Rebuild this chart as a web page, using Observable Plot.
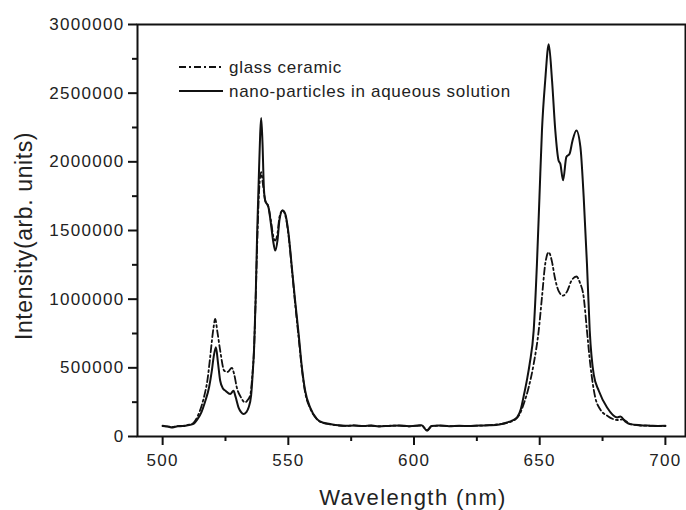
<!DOCTYPE html>
<html><head><meta charset="utf-8">
<script src="https://cdn.jsdelivr.net/npm/d3@7"></script>
<script src="https://cdn.jsdelivr.net/npm/@observablehq/plot@0.6"></script>
<style>
body{margin:0;background:#fff;}
#wrap{position:relative;width:686px;height:510px;font-family:"Liberation Sans",Arial,sans-serif;}
#overlay{position:absolute;left:0;top:0;pointer-events:none;}
</style></head><body><div id="wrap"></div>
<script>
// ---- data ----
const glassWl = [500,502,504,506,508,510,512,514,515.6,517,517.6,518.8,519.6,520.3,520.9,521.8,522.9,524.5,525.8,527.5,528.5,529.5,531,532.8,533.8,534.8,535.7,536.4,537,537.7,538.4,539.2,539.8,540.8,542.1,543,544,544.8,545.7,546.5,547.7,548.8,550.1,551.4,552.7,554.1,555.4,556.7,558.7,561.4,564,567,570,573,576,580,583,586,590,594,598,601,603,605.2,607,610,614,618,622,626,630,634,637,640,642,643.5,645.6,647.6,649.6,650.9,652.2,653.6,654.8,656,657.5,659.3,661,662.5,664.6,666,667.5,668.8,670.1,672.1,674,677,681,683,686,690,694,697,700];
const glassI  = [76000,74000,70000,76000,78000,84000,95000,150000,230000,330000,384000,560000,698000,800000,856000,760000,625000,479000,470000,500000,450000,357000,290000,248000,265000,297000,450000,650000,1000000,1450000,1800000,1925000,1850000,1719000,1670000,1580000,1460000,1427000,1480000,1600000,1646000,1610000,1460000,1220000,970000,720000,490000,320000,205000,125000,98000,88000,80000,77000,81000,75000,80000,73000,78000,79000,74000,79000,80000,48000,75000,79000,76000,77000,78000,79000,83000,90000,100000,120000,160000,230000,357000,528000,771000,1014000,1257000,1342000,1280000,1160000,1060000,1026000,1060000,1130000,1165000,1120000,1014000,771000,528000,284000,200000,150000,120000,125000,90000,80000,78000,76000,76000];
const nanoWl  = [500,502,504,506,508,510,512,514,515.5,517,518.5,519.5,520.3,521.2,522,522.9,524,525,526.9,528.2,529,530.2,531.2,532.2,533.2,534.2,535.2,535.8,536.4,537,537.6,538.2,538.8,539.2,539.7,540.3,540.8,542.1,543,544,544.8,545.7,546.5,547.7,548.8,550.1,551.4,552.7,554.1,555.4,556.7,558.7,561.4,564,567,570,573,576,580,583,586,590,594,598,601,603,605.2,607,610,614,618,622,626,630,634,637,639,641,642.5,643.7,645,646,647.6,648.9,649.9,650.9,652.2,653.6,654.9,656.2,657.5,658.2,659.3,660.6,661.9,663,664.6,666.2,667.5,668.8,669.9,671.5,673.5,676.8,680.8,682.1,684,686.1,690,694,697,700];
const nanoI   = [78000,72000,66000,75000,76000,82000,90000,130000,180000,260000,360000,470000,580000,650000,540000,406000,350000,333000,309000,333000,290000,211000,178000,163000,175000,211000,300000,450000,650000,1000000,1480000,1850000,2200000,2320000,2150000,1800000,1719000,1670000,1560000,1420000,1354000,1430000,1580000,1646000,1620000,1476000,1232000,990000,747000,503000,333000,211000,127000,100000,90000,82000,78000,80000,76000,79000,74000,77000,80000,75000,78000,82000,42000,76000,80000,75000,78000,76000,80000,82000,88000,102000,115000,139000,200000,300000,420000,528000,771000,1257000,1743000,2229000,2594000,2856000,2594000,2229000,2010000,1986000,1865000,2035000,2059000,2150000,2229000,2107000,1743000,1257000,771000,450000,333000,211000,139000,145000,110000,90000,82000,79000,77000,78000];
const xTicks = [500,550,600,650,700];
const xMinor = [525,575,625,675];
const yTicks = [0,500000,1000000,1500000,2000000,2500000,3000000];
const yMinor = [250000,750000,1250000,1750000,2250000,2750000];
const legendLabels = ["glass ceramic","nano-particles in aqueous solution"];
const xTitle = "Wavelength (nm)";
const yTitle = "Intensity(arb. units)";

const glass = glassWl.map((x,i)=>({x, y: glassI[i]}));
const nano = nanoWl.map((x,i)=>({x, y: nanoI[i]}));
const dashDot = "7,3,2,3";
const ink = "#111";

const chart = Plot.plot({
  width: 686, height: 510,
  marginLeft: 137, marginRight: 1, marginTop: 24, marginBottom: 74,
  style: {fontFamily: '"Liberation Sans", Arial, sans-serif', fontSize: "17px", letterSpacing: "1.3px", color: "#222", background: "#fff", overflow: "visible"},
  x: {domain: [490, 708]},
  y: {domain: [0, 3000000]},
  marks: [
    Plot.axisX({ticks: xTicks, tickSize: 9, tickPadding: 8, tickFormat: d => String(d), label: null, strokeWidth: 2, stroke: ink}),
    Plot.axisX({ticks: xMinor, tickSize: 5, tickFormat: () => "", label: null, strokeWidth: 2, stroke: ink}),
    Plot.axisY({ticks: yTicks, tickSize: 9, tickPadding: 4, tickFormat: d => String(d), label: null, strokeWidth: 2, stroke: ink}),
    Plot.axisY({ticks: yMinor, tickSize: 5, tickFormat: () => "", label: null, strokeWidth: 2, stroke: ink}),
    Plot.line(glass, {x: "x", y: "y", stroke: ink, strokeWidth: 1.8, strokeDasharray: dashDot, curve: "monotone-x"}),
    Plot.line(nano, {x: "x", y: "y", stroke: ink, strokeWidth: 2, curve: "monotone-x"}),
    Plot.frame({stroke: ink, strokeWidth: 2})
  ]
});
const wrap = document.getElementById("wrap");
wrap.appendChild(chart);

// overlay: axis titles and legend
const ns = "http://www.w3.org/2000/svg";
const ov = document.createElementNS(ns, "svg");
ov.setAttribute("id", "overlay");
ov.setAttribute("width", 686); ov.setAttribute("height", 510);
ov.setAttribute("font-family", '"Liberation Sans", Arial, sans-serif');
function txt(str, attrs) {
  const t = document.createElementNS(ns, "text");
  for (const k in attrs) t.setAttribute(k, attrs[k]);
  t.textContent = str; ov.appendChild(t); return t;
}
function ln(attrs) {
  const l = document.createElementNS(ns, "line");
  for (const k in attrs) l.setAttribute(k, attrs[k]);
  ov.appendChild(l);
}
txt(xTitle, {x: 413, y: 505, "text-anchor": "middle", "font-size": 22, "letter-spacing": "1.4px", fill: "#222"});
txt(yTitle, {transform: "translate(32,236) rotate(-90)", "text-anchor": "middle", "font-size": 23, "letter-spacing": "0.6px", fill: "#222"});
const legY = [67, 91];
legendLabels.forEach((lab, i) => {
  ln({x1: 179, x2: 223, y1: legY[i], y2: legY[i], stroke: ink, "stroke-width": 1.8, "stroke-dasharray": i === 0 ? dashDot : null});
  txt(lab, {x: 229, y: legY[i] + 6.3, "font-size": 17, "letter-spacing": "0.7px", fill: "#222"});
});
wrap.appendChild(ov);
</script></body></html>
